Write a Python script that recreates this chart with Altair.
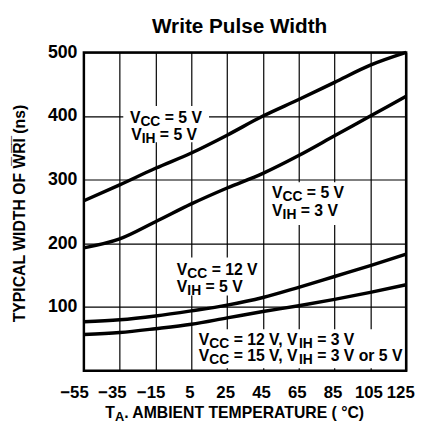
import altair as alt
import pandas as pd

# ---------------- data ----------------
TEMPS = [-55, -35, -15, 5, 25, 45, 65, 85, 105, 125]
VCC5_VIH5 = [267, 292, 318, 342, 370, 400, 426, 453, 480, 500]
VCC5_VIH3 = [193, 207, 234, 262, 287, 310, 338, 369, 400, 431]
VCC12_VIH5 = [77, 80, 86, 94, 103, 115, 131, 148, 165, 183]
VCC12_VIH3 = [57, 60, 66, 73, 83, 93, 102, 112, 123, 135]

X_TICKS = [-55, -35, -15, 5, 25, 45, 65, 85, 105, 125]
X_TICK_LABELS = ["\u221255", "\u221235", "\u221215", "5", "25", "45", "65", "85", "105", "125"]
Y_TICKS = [100, 200, 300, 400, 500]

TITLE = "Write Pulse Width"
Y_TITLE = "TYPICAL WIDTH OF W\u0305R\u0305I\u0305 (ns)"
X_TITLE = [("T", "m"), ("A", "s"), (". AMBIENT TEMPERATURE ( \u00b0C)", "m")]

# annotation lines: (start temperature, baseline value, fragments); "s" = subscript
LABELS = [
    (-29.3, 389, [("V", "m"), ("CC", "s"), (" = 5 V", "m")]),
    (-28.6, 363, [("V", "m"), ("IH", "s"), (" = 5 V", "m")]),
    (50.1, 272, [("V", "m"), ("CC", "s"), (" = 5 V", "m")]),
    (50.1, 243, [("V", "m"), ("IH", "s"), (" = 3 V", "m")]),
    (-3.1, 150, [("V", "m"), ("CC", "s"), (" = 12 V", "m")]),
    (-3.1, 123, [("V", "m"), ("IH", "s"), (" = 5 V", "m")]),
    (9.2, 40, [("V", "m"), ("CC", "s"), (" = 12 V, V", "m"), ("IH", "s"), (" = 3 V", "m")]),
    (9.2, 15, [("V", "m"), ("CC", "s"), (" = 15 V, V", "m"), ("IH", "s"), (" = 3 V or 5 V", "m")]),
]
# white boxes behind the annotations: (t1, t2, v1, v2)
BOXES = [
    (-33.0, 14.9, 359, 416),
    (47.9, 90.8, 229, 296),
    (-5.5, 42.4, 118, 178),
    (7.2, 123.3, 4, 65),
]

# ---------------- layout ----------------
FONT = "Liberation Sans"
W, H = 327, 323
PPD = W / 180.0
MAIN, SUB = 16, 14
# per-tick horizontal nudges of the x labels (pixels), as printed in the reference
X_LABEL_NUDGE = {-55: -10, -35: -8, -15: -5, 125: -6}

AW = {" ": 278, "(": 333, ")": 333, ",": 278, ".": 278, "=": 584, "A": 722, "B": 722,
      "C": 722, "E": 667, "H": 722, "I": 278, "M": 833, "N": 722, "P": 667, "R": 722,
      "T": 611, "U": 722, "V": 667, "o": 611, "r": 389, "\u00b0": 400}


def tw(s, size):
    return sum(AW.get(c, 556) for c in s) * size / 1000.0


def place(txt, size, cum):
    """SVG drops leading spaces: move the start past them instead."""
    lead = len(txt) - len(txt.lstrip(" "))
    return txt.strip(" "), cum + tw(" " * lead, size)


main_rows, sub_rows = [], []
for t0, v0, frags in LABELS:
    cum = 0.0
    for txt, kind in frags:
        size = MAIN if kind == "m" else SUB
        shown, start = place(txt, size, cum)
        row = {"tx": t0 + start / PPD, "vy": v0, "text": shown}
        (main_rows if kind == "m" else sub_rows).append(row)
        cum += tw(txt, size)

xt_main, xt_sub = [], []
cum = 21.7
for txt, kind in X_TITLE:
    size = 16 if kind == "m" else 13
    shown, start = place(txt, size, cum)
    row = {"px": start, "py": 371, "text": shown}
    (xt_main if kind == "m" else xt_sub).append(row)
    cum += tw(txt, size)

rows = []
for name, vals in [("a", VCC5_VIH5), ("b", VCC5_VIH3), ("c", VCC12_VIH5), ("d", VCC12_VIH3)]:
    for t, v in zip(TEMPS, vals):
        rows.append({"series": name, "temp": t, "value": v})
curves = pd.DataFrame(rows)
boxes = pd.DataFrame(BOXES, columns=["t1", "t2", "v1", "v2"])
title_df = pd.DataFrame([{"px": 158, "py": -20, "text": TITLE}])

xs = alt.Scale(domain=[-55, 125], nice=False, zero=False)
ys = alt.Scale(domain=[0, 500], nice=False, zero=False)

label_expr = "[" + ",".join("'%s'" % s for s in X_TICK_LABELS) + "][indexof([" + \
    ",".join(str(v) for v in X_TICKS) + "], datum.value)]"
label_offset = {
    "condition": [{"test": "datum.value == %d" % k, "value": v} for k, v in X_LABEL_NUDGE.items()],
    "value": -2,
}

x_axis = alt.Axis(values=X_TICKS, labelExpr=label_expr, title=None, labelOverlap=False,
                  labelFlush=False, labelPadding=14, labelOffset=label_offset, labelFontSize=17)
y_axis = alt.Axis(values=Y_TICKS, title=Y_TITLE, labelPadding=7, titleAngle=-90,
                  titleX=-60, titleY=163, titleBaseline="alphabetic", titleAlign="center",
                  titleFont=FONT, titleFontSize=16, titleFontWeight="bold", titleColor="black")

box_layer = alt.Chart(boxes).mark_rect(fill="white").encode(
    x=alt.X("t1:Q", scale=xs, axis=x_axis), x2="t2:Q",
    y=alt.Y("v1:Q", scale=ys, axis=y_axis), y2="v2:Q")

lines = alt.Chart(curves).mark_line(interpolate="monotone", color="black", strokeWidth=3.5).encode(
    x=alt.X("temp:Q", scale=xs, axis=x_axis),
    y=alt.Y("value:Q", scale=ys, axis=y_axis),
    detail="series:N")

txt_main = alt.Chart(pd.DataFrame(main_rows)).mark_text(
    align="left", baseline="alphabetic", font=FONT, fontSize=MAIN, fontWeight="bold", color="black"
).encode(x=alt.X("tx:Q", scale=xs, axis=x_axis), y=alt.Y("vy:Q", scale=ys, axis=y_axis), text="text:N")

txt_sub = alt.Chart(pd.DataFrame(sub_rows)).mark_text(
    align="left", baseline="alphabetic", font=FONT, fontSize=SUB, fontWeight="bold", color="black", dy=3
).encode(x=alt.X("tx:Q", scale=xs, axis=x_axis), y=alt.Y("vy:Q", scale=ys, axis=y_axis), text="text:N")

xt1 = alt.Chart(pd.DataFrame(xt_main)).mark_text(
    align="left", baseline="alphabetic", font=FONT, fontSize=16, fontWeight="bold", color="black"
).encode(x=alt.X("px:Q", scale=None), y=alt.Y("py:Q", scale=None), text="text:N")

xt2 = alt.Chart(pd.DataFrame(xt_sub)).mark_text(
    align="left", baseline="alphabetic", font=FONT, fontSize=13, fontWeight="bold", color="black", dy=3
).encode(x=alt.X("px:Q", scale=None), y=alt.Y("py:Q", scale=None), text="text:N")

title_layer = alt.Chart(title_df).mark_text(
    align="center", baseline="alphabetic", font=FONT, fontSize=21, fontWeight="bold", color="black"
).encode(x=alt.X("px:Q", scale=None), y=alt.Y("py:Q", scale=None), text="text:N")

chart = alt.layer(box_layer, lines, txt_main, txt_sub, xt1, xt2, title_layer).properties(
    width=W, height=H,
    background="white",
    padding={"left": 77, "top": 42, "right": 10, "bottom": 51},
    autosize=alt.AutoSizeParams(type="none"),
).configure_view(stroke="black", strokeWidth=2.5).configure_axis(
    domain=False, ticks=False, grid=True, gridColor="black", gridOpacity=1, gridWidth=1.2,
    labelFont=FONT, labelFontSize=18, labelFontWeight="bold", labelColor="black"
)

chart.save("out.html", embed_options={"renderer": "svg", "actions": False})
